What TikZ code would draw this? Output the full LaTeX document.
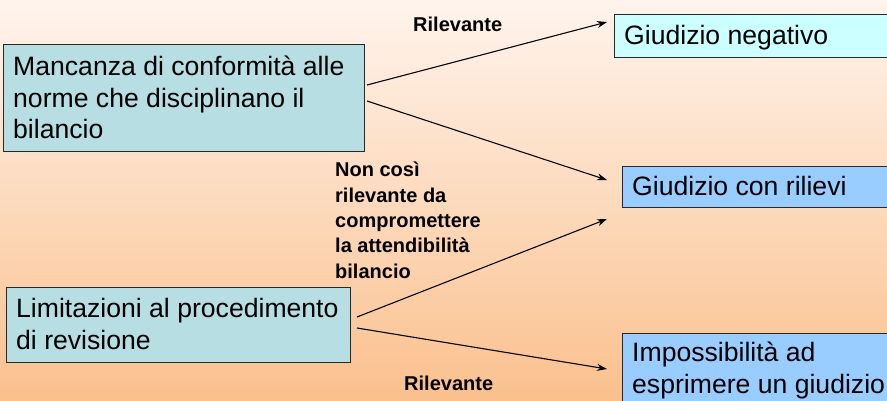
\documentclass[tikz,border=0pt]{standalone}
\usepackage{fontspec}
\setmainfont{Liberation Sans}
\usetikzlibrary{arrows.meta}
\definecolor{bgtop}{RGB}{255,244,237}
\definecolor{bgbot}{RGB}{250,192,141}
\definecolor{srcfill}{RGB}{183,222,227}
\definecolor{negfill}{RGB}{204,255,255}
\definecolor{rilfill}{RGB}{153,204,255}
\definecolor{edge}{RGB}{40,40,40}
\tikzset{
  box/.style={draw=edge, line width=1.2pt, anchor=north west, inner sep=0pt},
  txt/.style={anchor=base west, inner sep=0pt, align=left,
    font=\fontsize{26.6}{31.5}\selectfont, text=black},
  lbl/.style={anchor=base west, inner sep=0pt, align=left,
    font=\fontsize{20}{25.3}\selectfont\bfseries, text=black},
  arr/.style={draw=black, line width=1.1pt, -{Stealth[length=10pt,width=7pt]}}
}
\begin{document}
\begin{tikzpicture}[x=1pt,y=-1pt]
\useasboundingbox (0,0) rectangle (887,401);
\clip (0,0) rectangle (887,401);
\shade[top color=bgtop, bottom color=bgbot] (0,0) rectangle (887,401);

\node[box, fill=srcfill, minimum width=361pt, minimum height=107pt] (b1) at (3,44) {};
\node[box, fill=srcfill, minimum width=344pt, minimum height=75pt] (b2) at (6,287) {};
\node[box, fill=negfill, minimum width=300pt, minimum height=43pt] (gn) at (614,14) {};
\node[box, fill=rilfill, minimum width=300pt, minimum height=41pt] (gr) at (622,166) {};
\node[box, fill=rilfill, minimum width=300pt, minimum height=90pt] (im) at (622,333) {};

\node[txt] (t1) at (13,139) {Mancanza di conformità alle\\norme che disciplinano il\\bilancio};
\node[txt] (t2) at (16,349) {Limitazioni al procedimento\\di revisione};
\node[txt] (tgn) at (624,45) {Giudizio negativo};
\node[txt] (tgr) at (632,196) {Giudizio con rilievi};
\node[txt] (tim) at (632,393) {Impossibilità ad\\esprimere un giudizio};

\node[lbl] (l1) at (413,32) {Rilevante};
\node[lbl] (l2) at (335,278) {Non così\\rilevante da\\compromettere\\la attendibilità\\bilancio};
\node[lbl] (l3) at (404,390) {Rilevante};

\coordinate (s1) at (367,85);
\coordinate (s2) at (367,101);
\coordinate (s3) at (357,317);
\coordinate (s4) at (357,328);
\coordinate (e1) at (607,22);
\coordinate (e2) at (607,180);
\coordinate (e3) at (607,219);
\coordinate (e4) at (607,369);

\draw[arr] (s1) -- (e1);
\draw[arr] (s2) -- (e2);
\draw[arr] (s3) -- (e3);
\draw[arr] (s4) -- (e4);
\end{tikzpicture}
\end{document}
